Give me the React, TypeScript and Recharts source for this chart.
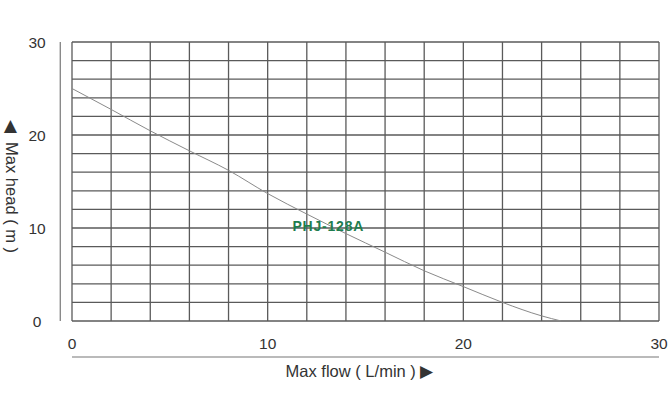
import React from "react";
import {
  LineChart,
  Line,
  XAxis,
  YAxis,
  CartesianGrid,
  ReferenceLine,
  ReferenceDot,
} from "recharts";

// pump curve: flow (L/min) vs head (m)
const flow = [0, 2, 4, 6, 8, 10, 12, 14, 16, 18, 20, 22, 24, 25];
const head = [25, 22.75, 20.45, 18.3, 16.2, 13.7, 11.5, 9.4, 7.4, 5.4, 3.7, 2.0, 0.55, 0];

const gridTicks = [0, 2, 4, 6, 8, 10, 12, 14, 16, 18, 20, 22, 24, 26, 28, 30];
const labelTicks = [0, 10, 20, 30];

const modelName = "PHJ-128A";
const modelAt = { flow: 13.1, head: 10.25 };

const xTitle = "Max flow ( L/min ) ▶";
const yTitle = "◀\u00a0\u00a0Max head ( m )";

const FONT = "'Liberation Sans', Arial, sans-serif";

const data = flow.map((f, i) => ({ flow: f, head: head[i] }));

const XTick = (props: any) => {
  const { x, y, payload } = props;
  if (!labelTicks.includes(payload.value)) return null;
  return (
    <text x={x} y={y + 20} textAnchor="middle" dominantBaseline="central" fill="#333" fontSize={15.5} fontFamily={FONT}>
      {payload.value}
    </text>
  );
};

const YTick = (props: any) => {
  const { x, y, payload } = props;
  if (!labelTicks.includes(payload.value)) return null;
  return (
    <text x={x - 33} y={y} textAnchor="middle" dominantBaseline="central" fill="#333" fontSize={15.5} fontFamily={FONT}>
      {payload.value}
    </text>
  );
};

export default function App() {
  return (
    <div style={{ position: "absolute", left: 0, top: 0, width: 672, height: 403, background: "#fff" }}>
      <LineChart width={672} height={403} data={data} margin={{ top: 42, right: 13, bottom: 0, left: 0 }}>
        <CartesianGrid stroke="#5a5a5a" strokeWidth={1.3} />
        <XAxis
          dataKey="flow"
          type="number"
          domain={[0, 30]}
          ticks={gridTicks}
          interval={0}
          height={82}
          axisLine={false}
          tickLine={false}
          tickSize={0}
          tick={<XTick />}
          label={{
            content: (p: any) => {
              const vb = p.viewBox;
              return (
                <text
                  x={vb.x + vb.width / 2 - 6}
                  y={vb.y + 50}
                  textAnchor="middle"
                  dominantBaseline="central"
                  fill="#333"
                  fontSize={16.5}
                  fontFamily={FONT}
                >
                  {xTitle}
                </text>
              );
            },
          }}
        />
        <YAxis
          type="number"
          domain={[0, 30]}
          ticks={gridTicks}
          interval={0}
          width={72}
          axisLine={false}
          tickLine={false}
          tickSize={0}
          tick={<YTick />}
          label={{
            content: (p: any) => {
              const vb = p.viewBox;
              const cx = 12;
              const cy = vb.y + vb.height / 2 + 5;
              return (
                <text
                  x={cx}
                  y={cy}
                  textAnchor="middle"
                  dominantBaseline="central"
                  fill="#333"
                  fontSize={16.5}
                  fontFamily={FONT}
                  transform={`rotate(90 ${cx} ${cy})`}
                >
                  {yTitle}
                </text>
              );
            },
          }}
        />
        {/* left rule beside the grid and bottom rule under the flow labels */}
        <ReferenceLine
          segment={[{ x: -0.6, y: 0 }, { x: -0.6, y: 30 }]}
          ifOverflow="visible"
          stroke="#777"
          strokeWidth={1.2}
        />
        <ReferenceLine
          segment={[{ x: 0, y: -3.87 }, { x: 30, y: -3.87 }]}
          ifOverflow="visible"
          stroke="#777"
          strokeWidth={1.2}
        />
        <Line
          dataKey="head"
          type="monotone"
          stroke="#8a8a8a"
          strokeWidth={1}
          dot={false}
          isAnimationActive={false}
        />
        <ReferenceDot
          x={modelAt.flow}
          y={modelAt.head}
          r={0}
          fill="none"
          stroke="none"
          label={{
            content: (p: any) => {
              const vb = p.viewBox;
              return (
                <text
                  x={vb.x + vb.width / 2}
                  y={vb.y + vb.height / 2}
                  textAnchor="middle"
                  dominantBaseline="central"
                  fill="#1f7d4e"
                  fontSize={14}
                  fontWeight="bold"
                  letterSpacing={0.8}
                  fontFamily={FONT}
                >
                  {modelName}
                </text>
              );
            },
          }}
        />
      </LineChart>
    </div>
  );
}
